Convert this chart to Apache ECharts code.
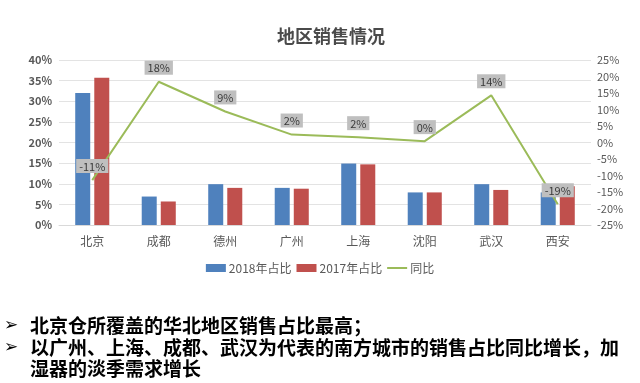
<!DOCTYPE html>
<html><head><meta charset="utf-8">
<script src="https://cdn.jsdelivr.net/npm/echarts@6/dist/echarts.min.js"></script>
<style>html,body{margin:0;padding:0;background:#fff}#c{width:640px;height:383px}</style>
</head><body><div id="c"></div>
<script>
const categories = ['北京','成都','德州','广州','上海','沈阳','武汉','西安'];
const share2018 = [32, 6.9, 9.9, 9, 14.9, 7.9, 9.9, 7.9];
const share2017 = [35.7, 5.7, 9, 8.8, 14.7, 7.9, 8.5, 9.4];
const yoy = [-11.4, 18.4, 9.4, 2.4, 1.6, 0.4, 14.3, -18.7];
const leftTicks = [0, 40, 5];
const rightTicks = [-25, 25, 5];
const bullets = ['北京仓所覆盖的华北地区销售占比最高；','以广州、上海、成都、武汉为代表的南方城市的销售占比同比增长，加','湿器的淡季需求增长'];

const font = '"Microsoft YaHei","Noto Sans CJK SC",sans-serif';
const chart = echarts.init(document.getElementById('c'));
chart.setOption({
  animation: false,
  textStyle: {fontFamily: font},
  title: {text: '地区销售情况', left: 326, textAlign: 'center', top: 22,
    textStyle: {fontSize: 18, fontWeight: 'bold', color: '#4a4a4a', fontFamily: font}},
  legend: {top: 257, left: 'center', itemGap: 5, itemWidth: 20, itemHeight: 8,
    textStyle: {fontSize: 12, color: '#595959', padding: [0,0,0,-2]},
    data: [{name:'2018年占比', icon:'rect'},{name:'2017年占比', icon:'rect'},
      {name:'同比', icon:'path://M0,0M20,8M0,3H20V5H0Z'}]},
  grid: {left: 59, right: 49, top: 60, bottom: 158},
  xAxis: {type: 'category', data: categories,
    axisLine: {lineStyle: {color: '#d9d9d9'}}, axisTick: {show: false},
    axisLabel: {color: '#595959', fontSize: 12, margin: 10}},
  yAxis: [
    {type: 'value', min: leftTicks[0], max: leftTicks[1], interval: leftTicks[2],
      axisLabel: {formatter: '{value}%', color: '#595959', fontSize: 11, fontWeight: 'bold', margin: 7},
      splitLine: {lineStyle: {color: '#e3e3e3'}}, axisLine: {show: false}},
    {type: 'value', min: rightTicks[0], max: rightTicks[1], interval: rightTicks[2],
      axisLabel: {formatter: '{value}%', color: '#595959', fontSize: 11, margin: 6},
      splitLine: {show: false}, axisLine: {show: false}}
  ],
  series: [
    {name: '2018年占比', type: 'bar', data: share2018, barWidth: 15, barGap: '27%',
      itemStyle: {color: '#4F81BD'}},
    {name: '2017年占比', type: 'bar', data: share2017, barWidth: 15,
      itemStyle: {color: '#C0504D'}},
    {name: '同比', type: 'line', yAxisIndex: 1, data: yoy, symbol: 'circle', symbolSize: 0.1,
      showSymbol: true,
      lineStyle: {color: '#9BBB59', width: 2}, itemStyle: {color: '#9BBB59'}, z: 5,
      label: {show: true, position: 'top', distance: 7,
        formatter: p => Math.round(p.value) + '%',
        backgroundColor: '#bfbfbf', color: '#3a3a3a', fontSize: 11,
        padding: [2, 3, 1, 3]}}
  ],
  graphic: bullets.map((t, i) => ({
    type: 'text', left: 30, top: [316, 338, 359][i],
    style: {text: t, font: 'bold 19px ' + font, fill: '#000'}
  })).concat([0, 1].map(i => ({
    type: 'text', left: 4, top: [317, 339][i],
    style: {text: '➢', font: '17px "DejaVu Sans"', fill: '#000'}
  })))
});
</script></body></html>
